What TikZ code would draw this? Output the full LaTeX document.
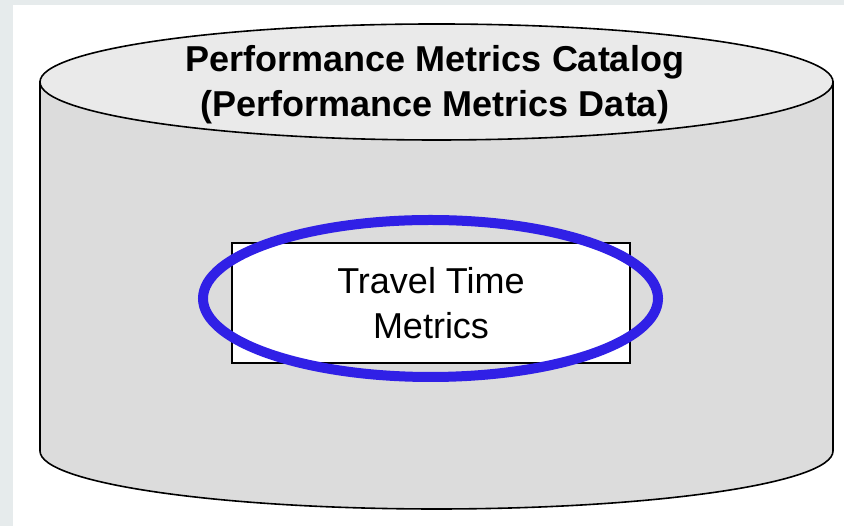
\documentclass[tikz,border=0pt]{standalone}
\usepackage{fontspec}
\setmainfont{Liberation Sans}
\usetikzlibrary{shapes.geometric, positioning}

\definecolor{pageband}{RGB}{230,235,236}
\definecolor{drumside}{RGB}{220,220,220}
\definecolor{drumtop}{RGB}{234,234,234}
\definecolor{markblue}{RGB}{48,32,230}

\begin{document}
\begin{tikzpicture}[
  x=1pt, y=1pt,
  drum/.style={draw=black, line width=1.6pt},
  title/.style={
    align=center, inner sep=0pt,
    font=\fontsize{36}{45}\selectfont\bfseries
  },
  metric/.style={
    draw, line width=1.2pt, fill=white,
    minimum width=398pt, minimum height=120pt,
    align=center, font=\fontsize{36}{45}\selectfont
  },
  ring/.style={
    ellipse, draw=markblue, line width=10pt,
    minimum width=455pt, minimum height=157pt, inner sep=0pt
  }
]

% Frame
\useasboundingbox (0,0) rectangle (844,526);
\fill[pageband] (0,0) rectangle (844,526);
\fill[white] (13,0) rectangle (844,521);

% 1. Catalog drum
\filldraw[drum, fill=drumside] (40,444) -- (40,75)
  arc[start angle=180, end angle=360, x radius=396.5, y radius=58] -- (833,444) -- cycle;
\filldraw[drum, fill=drumtop] (436.5,444) ellipse [x radius=396.5, y radius=58];

\node[title, anchor=base] (catalog) at (435,409) {
  Performance Metrics Catalog \\
  (Performance Metrics Data)
};

% 2. Travel time box
\node[metric] (travel) at (431,223) {Travel Time \\ Metrics};

% 3. Highlight ring
\node[ring] (ring) at (430.5,227.5) {};

\end{tikzpicture}
\end{document}
